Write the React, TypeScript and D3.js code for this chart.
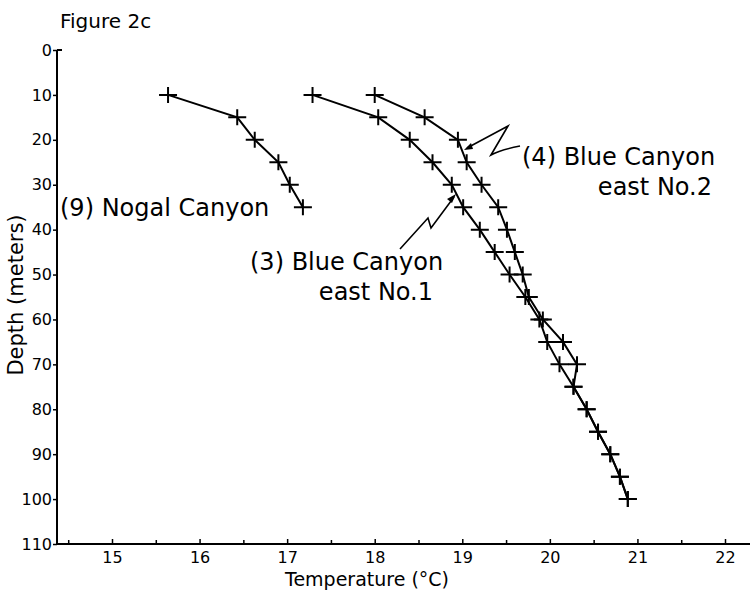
import React, { useEffect, useRef } from 'react'
import * as d3 from 'd3'

// depth below surface, meters
const depths = [10, 15, 20, 25, 30, 35, 40, 45, 50, 55, 60, 65, 70, 75, 80, 85, 90, 95, 100]

// (9) Nogal Canyon, 10-35 m
const nogalTemp = [15.64, 16.43, 16.63, 16.9, 17.03, 17.18]
// (3) Blue Canyon east No.1
const blue1Temp = [17.29, 18.04, 18.4, 18.66, 18.88, 19.01, 19.2, 19.37, 19.54, 19.72, 19.88, 19.97, 20.11, 20.27, 20.42, 20.55, 20.69, 20.8, 20.89]
// (4) Blue Canyon east No.2
const blue2Temp = [18.0, 18.57, 18.95, 19.05, 19.22, 19.41, 19.51, 19.6, 19.69, 19.76, 19.92, 20.15, 20.31, 20.27, 20.42, 20.55, 20.69, 20.8, 20.89]

const xTicks = [15, 16, 17, 18, 19, 20, 21, 22]
const xMinorTicks = [14.5, 15.5, 16.5, 17.5, 18.5, 19.5, 20.5, 21.5]
const yTicks = [0, 10, 20, 30, 40, 50, 60, 70, 80, 90, 100, 110]

const FONT = 'DejaVu Sans'

export default function App() {
  const ref = useRef<SVGSVGElement>(null)

  useEffect(() => {
    const W = 752, H = 591
    const svg = d3.select(ref.current)
    svg.selectAll('*').remove()
    svg.attr('width', W).attr('height', H)

    svg.append('rect').attr('width', W).attr('height', H).attr('fill', '#fff')

    var x = d3.scaleLinear().domain([15, 22]).range([112, 725])
    var y = d3.scaleLinear().domain([0, 110]).range([50, 544])
    var x0 = 57

    // axis lines
    svg.append('line')
      .attr('x1', x0).attr('x2', x0).attr('y1', y(0)).attr('y2', y(110))
      .attr('stroke', '#000').attr('stroke-width', 2)
    svg.append('line')
      .attr('x1', x0).attr('x2', x0 + 5).attr('y1', y(0)).attr('y2', y(0))
      .attr('stroke', '#000').attr('stroke-width', 2)
    svg.append('line')
      .attr('x1', x0).attr('x2', 750).attr('y1', y(110)).attr('y2', y(110))
      .attr('stroke', '#000').attr('stroke-width', 2)

    // Y axis ticks
    var yAxis = svg.append('g')
      .attr('transform', 'translate(' + x0 + ',0)')
      .call(d3.axisLeft(y).tickValues(yTicks).tickSize(4).tickPadding(1).tickSizeOuter(0))
    yAxis.select('.domain').remove()
    yAxis.selectAll('line').attr('stroke-width', 1.5)
    yAxis.selectAll('text')
      .attr('font-family', FONT).attr('font-size', 16).attr('fill', '#000')

    // X axis ticks (pointing up into the plot)
    var xAxis = svg.append('g')
      .attr('transform', 'translate(0,' + y(110) + ')')
      .call(d3.axisBottom(x).tickValues(xTicks).tickSize(-5).tickPadding(8)
        .tickFormat(d3.format('d')).tickSizeOuter(0))
    xAxis.select('.domain').remove()
    xAxis.selectAll('line').attr('stroke-width', 1.5)
    xAxis.selectAll('text')
      .attr('font-family', FONT).attr('font-size', 16).attr('fill', '#000')

    var xMinor = svg.append('g')
      .attr('transform', 'translate(0,' + y(110) + ')')
      .call(d3.axisBottom(x).tickValues(xMinorTicks).tickSize(-4).tickFormat(() => '').tickSizeOuter(0))
    xMinor.select('.domain').remove()
    xMinor.selectAll('line').attr('stroke-width', 1.5)

    // axis titles
    svg.append('text')
      .attr('x', 367).attr('y', 586).attr('text-anchor', 'middle')
      .attr('font-family', FONT).attr('font-size', 19)
      .text('Temperature (°C)')
    svg.append('text')
      .attr('transform', 'translate(23,295)rotate(-90)')
      .attr('text-anchor', 'middle')
      .attr('font-family', FONT).attr('font-size', 21)
      .text('Depth (meters)')
    svg.append('text')
      .attr('x', 60).attr('y', 28)
      .attr('font-family', FONT).attr('font-size', 20)
      .text('Figure 2c')

    // profiles
    var series = [
      { t: nogalTemp, d: depths.slice(0, nogalTemp.length) },
      { t: blue1Temp, d: depths },
      { t: blue2Temp, d: depths }
    ]
    var line = d3.line<[number, number]>()
      .x(function (p) { return x(p[0]) })
      .y(function (p) { return y(p[1]) })

    series.forEach(function (s) {
      var pts: [number, number][] = s.t.map(function (t, i) { return [t, s.d[i]] })
      svg.append('path')
        .attr('d', line(pts))
        .attr('fill', 'none').attr('stroke', '#000').attr('stroke-width', 2)
      var g = svg.append('g')
      g.selectAll('path.cross')
        .data(pts)
        .enter()
        .append('path')
        .attr('class', 'cross')
        .attr('d', function (p) {
          var cx = x(p[0]), cy = y(p[1])
          return 'M' + (cx - 9) + ',' + cy + 'H' + (cx + 9) + 'M' + cx + ',' + (cy - 8) + 'V' + (cy + 8)
        })
        .attr('stroke', '#000').attr('stroke-width', 2)
    })

    // labels
    var lab = function (tx: number, ty: number, s: string, anchor = 'start') {
      svg.append('text')
        .attr('x', tx).attr('y', ty).attr('text-anchor', anchor)
        .attr('font-family', FONT).attr('font-size', 24)
        .text(s)
    }
    lab(60, 216, '(9) Nogal Canyon')
    lab(250, 270, '(3) Blue Canyon')
    lab(433, 300, 'east No.1', 'end')
    lab(522, 165, '(4) Blue Canyon')
    lab(712, 195, 'east No.2', 'end')

    // leader lines
    svg.append('path')
      .attr('d', 'M400,249 L428,218 L431,228 L454,197')
      .attr('fill', 'none').attr('stroke', '#000').attr('stroke-width', 1.6)
    svg.append('path')
      .attr('d', 'M456,194 L447,199 L452,203 Z').attr('fill', '#000')
    svg.append('path')
      .attr('d', 'M520,146 Q500,150 491,155 L508,126 L467,148')
      .attr('fill', 'none').attr('stroke', '#000').attr('stroke-width', 1.6)
    svg.append('path')
      .attr('d', 'M464,150 L471,143 L473,149 Z').attr('fill', '#000')
  }, [])

  return (
    <svg ref={ref} style={{ position: 'absolute', left: 0, top: 0, display: 'block' }}></svg>
  )
}
